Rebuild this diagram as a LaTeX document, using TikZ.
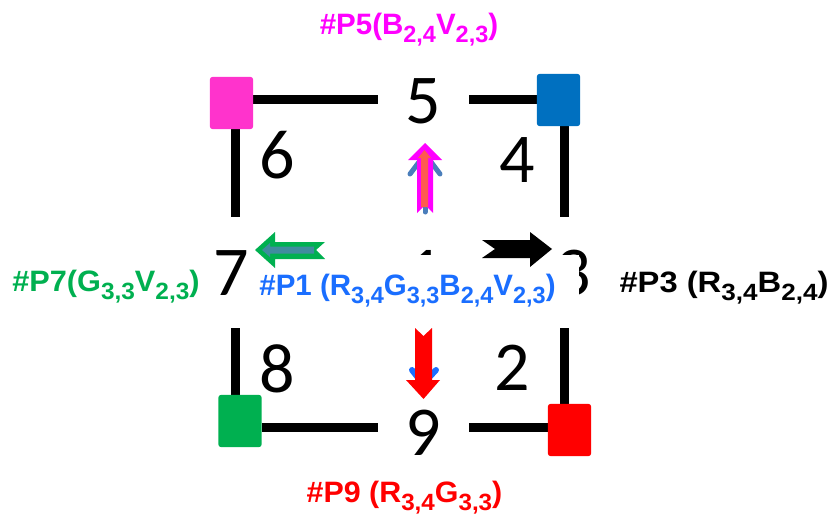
\documentclass[tikz,border=0pt]{standalone}
\usepackage{fontspec}
\setmainfont{Liberation Sans}
\newfontfamily\digitfont{Carlito}
\definecolor{cPink}{HTML}{FF33CC}
\definecolor{cBlueSq}{HTML}{0070C0}
\definecolor{cGreen}{HTML}{00B050}
\definecolor{cRed}{HTML}{FF0000}
\definecolor{cMag}{HTML}{FF00FF}
\definecolor{cBlueTxt}{HTML}{1A6EFF}
\definecolor{cTeal}{HTML}{3F8C9E}
\definecolor{cCoral}{HTML}{FF5A50}
\definecolor{cSteel}{HTML}{4A7EBB}
\newcommand{\sbx}[1]{\raisebox{-8pt}{\fontsize{23.5}{24}\selectfont #1}}
\tikzset{
  sq/.style={draw=none, rounded corners=3pt, minimum width=43pt, minimum height=52pt, inner sep=0pt},
  grid/.style={line width=9pt, black},
  digit/.style={anchor=base, inner sep=0pt, font=\digitfont\fontsize{70}{70}\selectfont},
  lbl/.style={anchor=base, inner sep=0pt, font=\fontsize{29.5}{30}\selectfont\bfseries},
}
\begin{document}
\begin{tikzpicture}[x=1pt, y=-1pt]
\useasboundingbox (0,0) rectangle (827,519);
% endpoints of the grid lines
\coordinate (t5L) at (378,99);
\coordinate (t5R) at (469,99);
\coordinate (b9L) at (378,427);
\coordinate (b9R) at (469,427);
\coordinate (l7top) at (235,217);
\coordinate (l7bot) at (235,328);
\coordinate (r3top) at (564,217);
\coordinate (r3bot) at (564,328);
% squares (positions)
\path (231.5,103) node[sq] (sq6) {};
\path (558.5,100) node[sq] (sq4) {};
\path (240,421) node[sq] (sq8) {};
\path (569.5,430) node[sq] (sq2) {};
% grid lines
\draw[grid] (sq6.east |- t5L) -- (t5L);
\draw[grid] (t5R) -- (sq4.west |- t5R);
\draw[grid] (sq8.east |- b9L) -- (b9L);
\draw[grid] (b9R) -- (sq2.west |- b9R);
\draw[grid] (sq6.south -| l7top) -- (l7top);
\draw[grid] (sq4.south -| r3top) -- (r3top);
\draw[grid] (l7bot) -- (sq8.north -| l7bot);
\draw[grid] (r3bot) -- (sq2.north -| r3bot);
% squares drawn on top
\fill[cPink, rounded corners=3pt] (sq6.south west) rectangle (sq6.north east);
\fill[cBlueSq, rounded corners=3pt] (sq4.south west) rectangle (sq4.north east);
\fill[cGreen, rounded corners=3pt] (sq8.south west) rectangle (sq8.north east);
\fill[cRed, rounded corners=3pt] (sq2.south west) rectangle (sq2.north east);
% digits
\node[digit] (d5) at (423,123) {5};
\node[digit] (d6) at (277,178) {6};
\node[digit] (d4) at (517,182) {4};
\node[digit] (d7) at (231,295) {7};
\node[digit] (d1) at (425,295) {1};
\node[digit] (d3) at (573,295) {3};
\node[digit] (d8) at (277,392) {8};
\node[digit] (d2) at (512,390) {2};
\node[digit] (d9) at (423,455) {9};
% cover of the central label
\fill[white] (252,255) rectangle (579,312);
% labels
\node[lbl, text=cMag] (p5) at (409,35) {\#P5(B\sbx{2,4}V\sbx{2,3})};
\node[lbl, text=cGreen] (p7) at (106,291) {\scalebox{1.04}[1]{\#P7(G\sbx{3,3}V\sbx{2,3})}};
\node[lbl, text=cBlueTxt] (p1) at (407.5,295) {\#P1 (R\sbx{3,4}G\sbx{3,3}B\sbx{2,4}V\sbx{2,3})};
\node[lbl, text=black] (p3) at (724,292) {\scalebox{1.11}[1]{\#P3 (R\sbx{3,4}B\sbx{2,4})}};
\node[lbl, text=cRed] (p9) at (404.5,502) {\scalebox{1.03}[1]{\#P9 (R\sbx{3,4}G\sbx{3,3})}};
% up arrow: blue arrow behind, magenta block arrow, coral inner arrow
\draw[cSteel, line width=5pt, line cap=round] (425,212) -- (425,152);
\draw[cSteel, line width=5pt, line cap=round, line join=round] (410,174) -- (425,154) -- (440,174);
\fill[cMag] (425,143) -- (442,160) -- (433,160) -- (433,213) -- (425,205) -- (417,213) -- (417,160) -- (408,160) -- cycle;
\fill[cCoral] (424.5,150) -- (431,158) -- (428,158) -- (428,207) -- (421,207) -- (421,158) -- (418,158) -- cycle;
% left green arrow with teal inner arrow
\fill[cGreen] (255,250) -- (275,232) -- (275,242) -- (325,242) -- (316,250) -- (325,259) -- (275,259) -- (275,268) -- cycle;
\fill[cTeal] (262,250) -- (270,243) -- (270,246.5) -- (314,246.5) -- (314,253.5) -- (270,253.5) -- (270,257) -- cycle;
% right black arrow
\fill[black] (482,240) -- (530,240) -- (530,232) -- (552,249) -- (530,267) -- (530,258) -- (482,258) -- (495,249) -- cycle;
% down arrow: blue behind, red block arrow
\draw[cBlueTxt, line width=6pt, line cap=round, line join=round] (412,370) -- (423,384) -- (436,370);
\fill[cRed] (415,328) -- (423.5,336) -- (432,328) -- (432,380) -- (440,380) -- (423.5,399) -- (406,380) -- (415,380) -- cycle;
\end{tikzpicture}
\end{document}
